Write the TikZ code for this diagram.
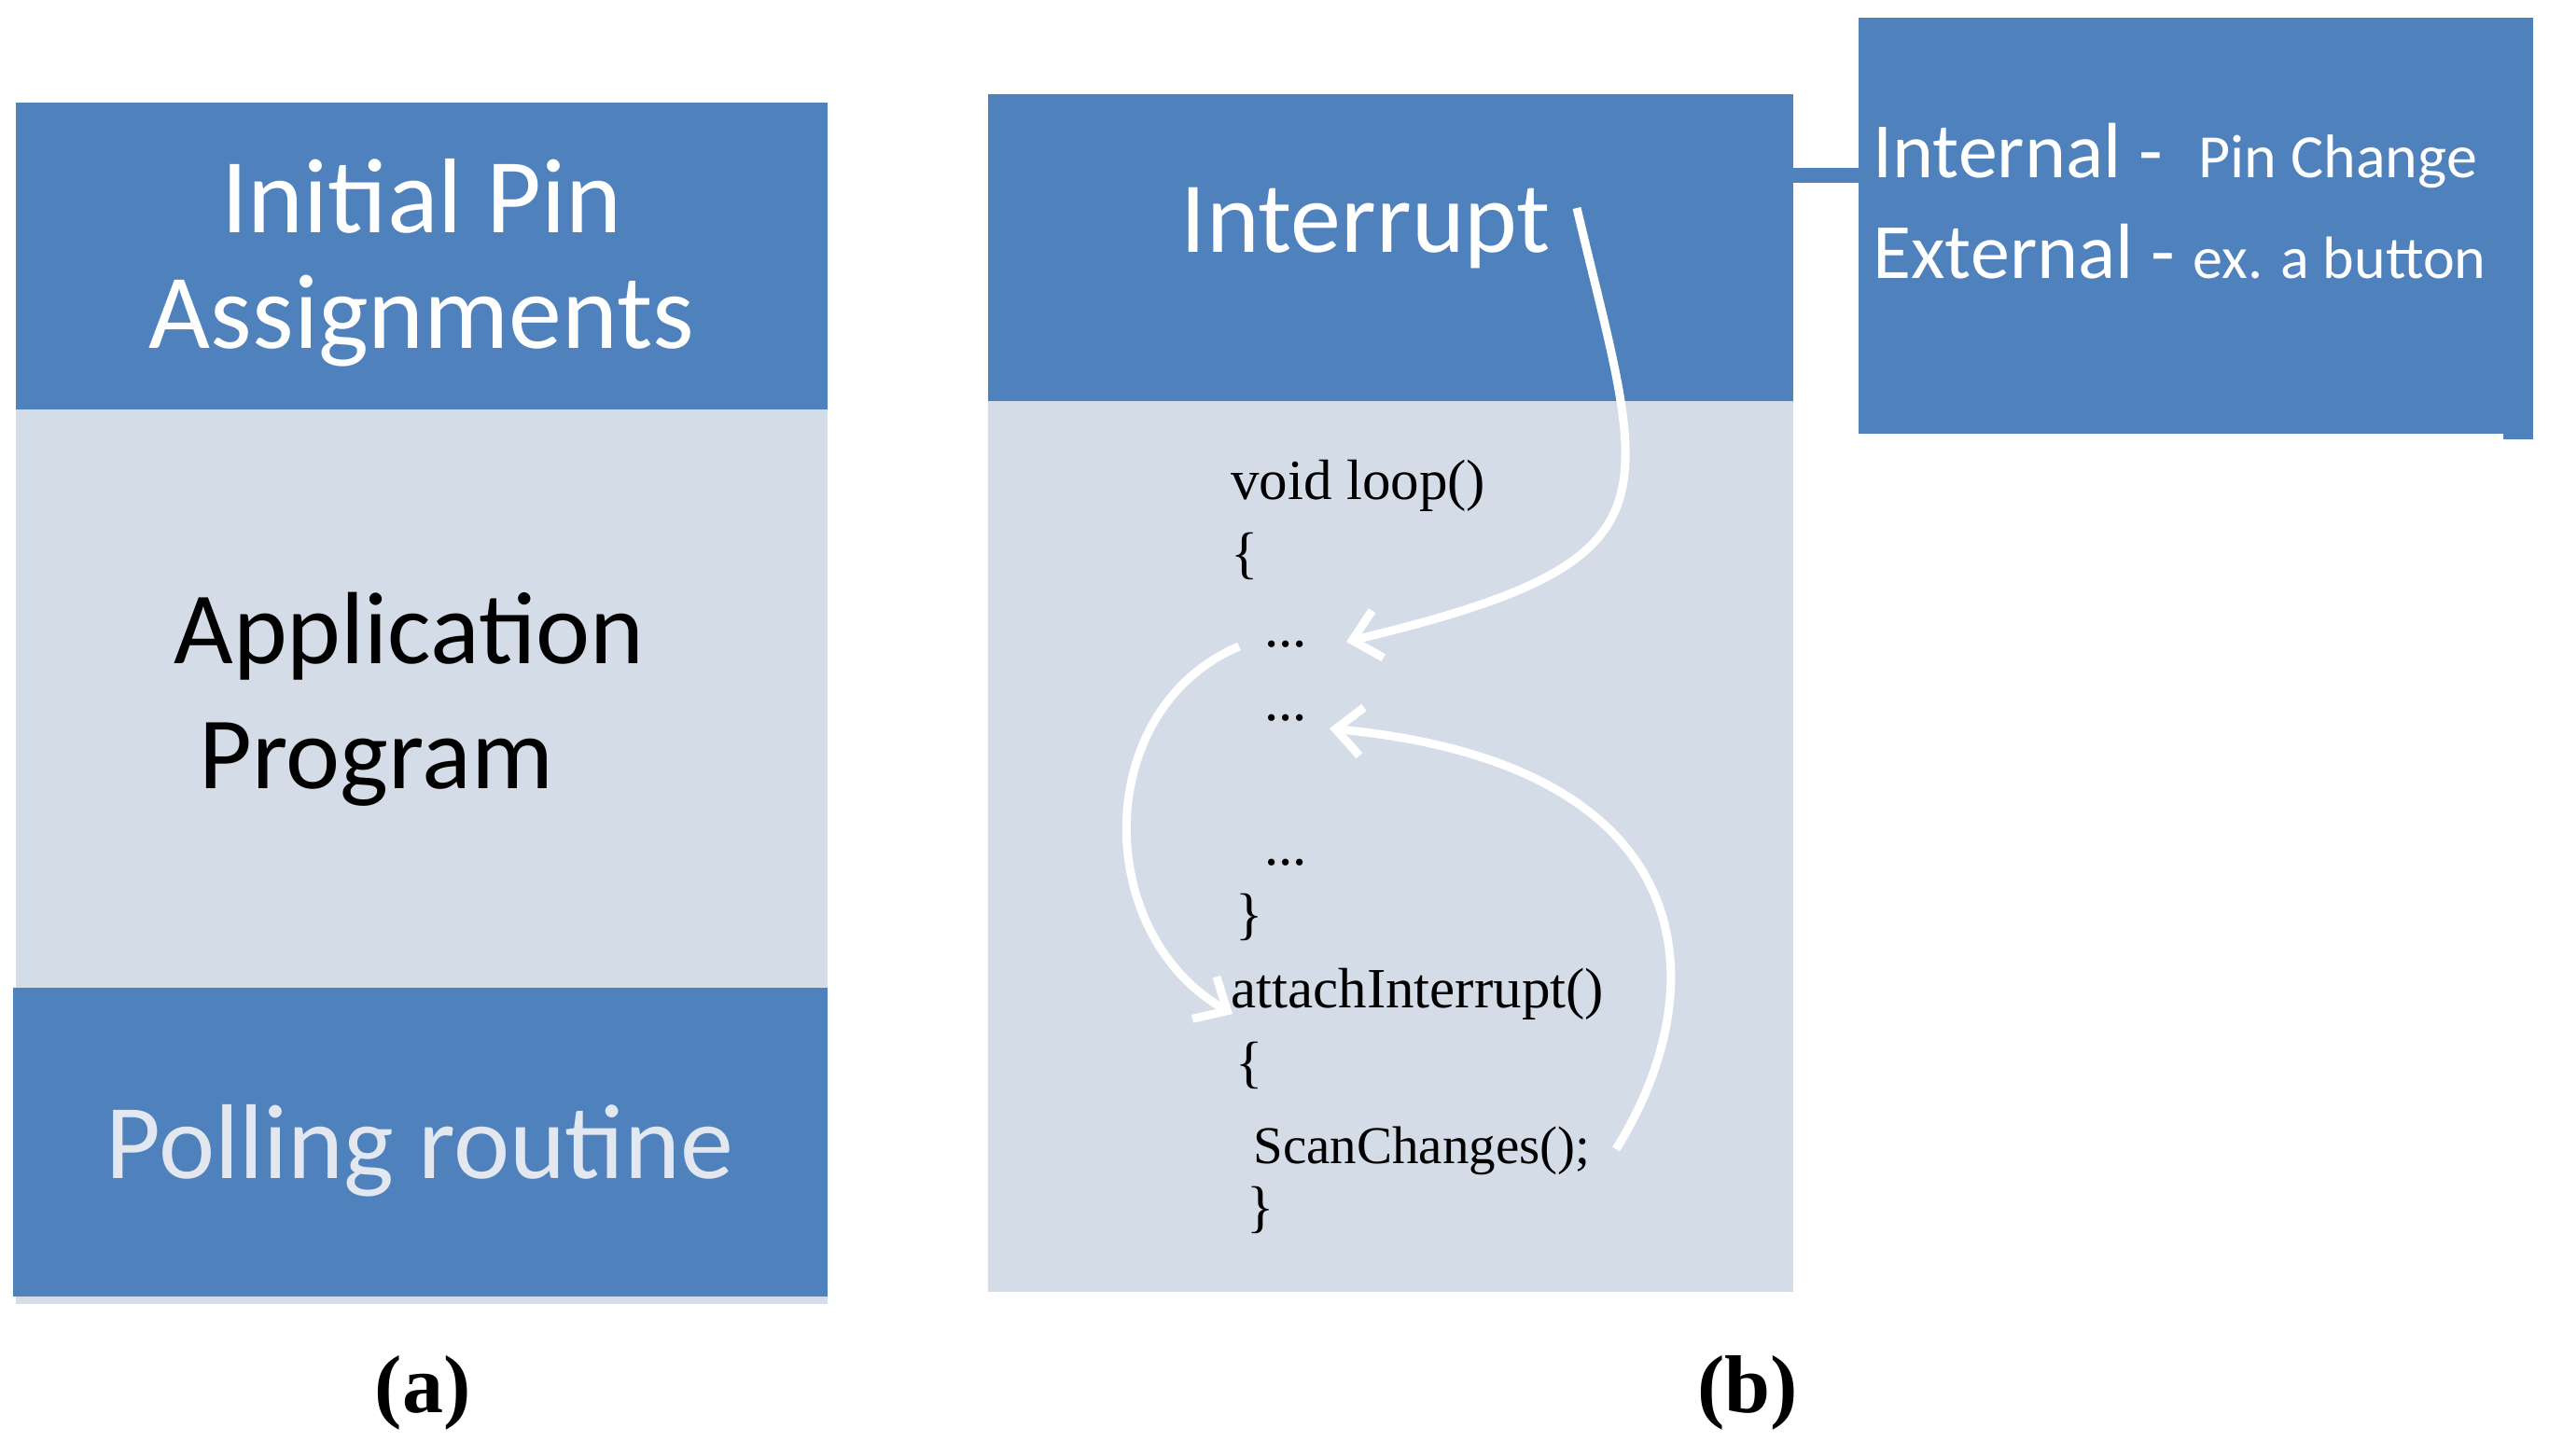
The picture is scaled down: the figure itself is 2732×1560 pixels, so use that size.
\documentclass[tikz,border=0pt]{standalone}
\usepackage{fontspec}
\usetikzlibrary{arrows.meta}
\newfontfamily\calfont{Carlito}
\newfontfamily\tmsfont{Liberation Serif}
\definecolor{bblue}{HTML}{4F81BD}
\definecolor{lblue}{HTML}{D4DCE8}
\definecolor{ptxt}{HTML}{E2E7F0}
\tikzset{
  panel/.style={draw=none, inner sep=0pt, outer sep=0pt, anchor=north west},
  bluebox/.style={panel, fill=bblue},
  lightbox/.style={panel, fill=lblue},
  bigtxt/.style={inner sep=0pt, anchor=base, text=white, font=\calfont\fontsize{57pt}{60pt}\selectfont},
  codetxt/.style={inner sep=0pt, anchor=base west, text=black, font=\tmsfont\fontsize{30.5pt}{32pt}\selectfont},
  captxt/.style={inner sep=0pt, anchor=base, text=black, font=\tmsfont\bfseries\fontsize{44pt}{46pt}\selectfont},
  flow/.style={draw=white, line width=4.5pt, -{Straight Barb[length=14pt,width=26pt]}},
}
\begin{document}
\begin{tikzpicture}[x=0.5pt,y=-0.5pt]
\useasboundingbox[fill=white] (0,0) rectangle (2732,1560);
% ---------- panel (a)
\node[lightbox, minimum width=435pt, minimum height=310pt] (aMid) at (17,439) {};
\node[lightbox, minimum width=435pt, minimum height=4pt] (aStrip) at (17,1390) {};
\node[bluebox, minimum width=435pt, minimum height=164.5pt] (aTop) at (17,110) {};
\node[bluebox, minimum width=436.5pt, minimum height=165.5pt] (aBot) at (14,1059) {};
\node[bigtxt] (t1) at (452,249) {Initial Pin};
\node[bigtxt] (t2) at (452,373) {Assignments};
\node[bigtxt, anchor=base west, text=black, font=\calfont\fontsize{55pt}{58pt}\selectfont] (t3) at (186,711) {Application};
\node[bigtxt, anchor=base west, text=black, font=\calfont\fontsize{55pt}{58pt}\selectfont] (t4) at (213,845) {Program};
\node[bigtxt, text=ptxt] (t5) at (450,1263) {Polling routine};
\node[captxt] (capa) at (453,1514) {(a)};
% ---------- panel (b)
\node[lightbox, minimum width=431.5pt, minimum height=477.5pt] (bMid) at (1059,430) {};
\node[bluebox, minimum width=431.5pt, minimum height=164.5pt] (bTop) at (1059,101) {};
\node[bluebox, minimum width=361.5pt, minimum height=223pt] (rBox) at (1992,19) {};
\node[bluebox, minimum width=16pt, minimum height=4pt] (rNotch) at (2683,463) {};
\coordinate (lk) at (0,188);
\draw[bblue, line width=8pt] (bTop.east |- lk) -- (rBox.west |- lk);
\node[bigtxt, font=\calfont\fontsize{54pt}{58pt}\selectfont] (tint) at (1464,270) {Interrupt};
\node[inner sep=0pt, anchor=base west, text=white] (tin) at (2007,190)
  {\calfont\fontsize{42pt}{44pt}\selectfont Internal -\ \ \fontsize{33pt}{35pt}\selectfont Pin Change};
\node[inner sep=0pt, anchor=base west, text=white] (tex) at (2007,298)
  {\calfont\fontsize{42pt}{44pt}\selectfont External - \fontsize{32pt}{34pt}\selectfont ex. a button};
% code
\node[codetxt] (c1) at (1319,535) {void loop()};
\node[codetxt] (c2) at (1319,613) {\{};
\node[codetxt] (c3) at (1355,693) {...};
\node[codetxt] (c4) at (1355,772) {...};
\node[codetxt] (c5) at (1355,927) {...};
\node[codetxt] (c6) at (1324,1000) {\}};
\node[codetxt] (c7) at (1319,1080) {attachInterrupt()};
\node[codetxt] (c8) at (1324,1159) {\{};
\node[codetxt, font=\tmsfont\fontsize{28.5pt}{30pt}\selectfont] (c9) at (1343,1247) {ScanChanges();};
\node[codetxt] (c10) at (1336,1314) {\}};
\node[captxt] (capb) at (1873,1514) {(b)};
% arrows
\coordinate (s1) at (1690,223);
\coordinate (e1) at (1443,688);
\draw[flow] (s1) .. controls (1765,540) and (1810,600) .. (e1);
\coordinate (s2) at (1328,693);
\coordinate (e2) at (1321,1087);
\draw[flow] (s2) .. controls (1170,760) and (1170,1000) .. (e2);
\coordinate (s3) at (1732,1232);
\coordinate (e3) at (1425,781);
\draw[flow] (s3) .. controls (1840,1060) and (1830,820) .. (e3);
\end{tikzpicture}
\end{document}
